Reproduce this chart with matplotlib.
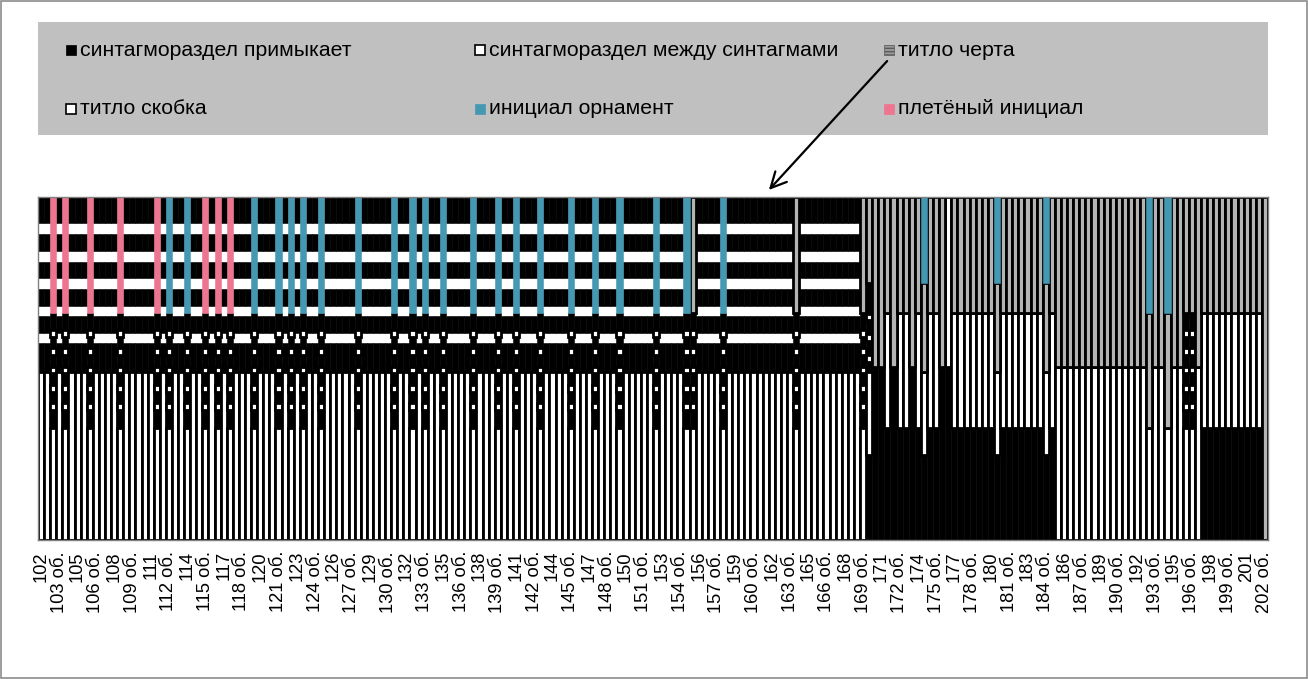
import matplotlib
matplotlib.use('Agg')
import matplotlib.pyplot as plt
from matplotlib.patches import Rectangle, FancyArrowPatch

plt.rcParams['font.family'] = ['Liberation Sans', 'DejaVu Sans']

# ---------------- data ----------------
pages = list(range(102, 203))
categories = []
for p in pages:
    categories += [str(p), f"{p} об."]

series_names = ['синтагмораздел примыкает', 'синтагмораздел между синтагмами',
                'титло черта', 'титло скобка', 'инициал орнамент', 'плетёный инициал']
series_codes = ['B', 'W', 'G', 'S', 'T', 'P']

# segment profiles (bottom -> top), share of the column in %
NORMAL_TYPES = ['S', 'B', 'W', 'B', 'W', 'B', 'W', 'B', 'W', 'B', 'W', 'B']
NORMAL_VALUES = [49.0, 8.4, 2.9, 5.0, 2.9, 5.0, 3.2, 4.6, 3.3, 4.9, 3.2, 7.6]

LADDER_TYPES = ['S', 'B', 'S', 'B', 'S', 'B', 'S', 'B', 'S', 'B', 'S', 'B']
LADDER_VALUES = [32.7, 5.2, 2.0, 3.2, 2.1, 3.5, 1.7, 3.5, 2.1, 3.2, 2.0, 5.0, 33.8]

RA_TYPES = ['B', 'S', 'G']
RA_VALUES = [32.7, 33.5, 33.8]
RB_TYPES = ['B', 'G']
RB_VALUES = [50.4, 49.6]
RC_TYPES = ['B', 'S', 'G', 'T']
RC_VALUES = [24.8, 24.2, 25.9, 25.1]
RD_TYPES = ['S', 'G']
RD_VALUES = [50.4, 49.6]
RE_TYPES = ['S', 'G', 'T']
RE_VALUES = [32.7, 33.5, 33.8]
RH_TYPES = ['G']
RH_VALUES = [100.0]
RI_TYPES = ['B', 'S']
RI_VALUES = [50.4, 49.6]
R136_TYPES = ['B', 'S', 'B', 'S', 'B', 'S', 'B', 'S', 'B', 'G']
R136_VALUES = [24.8, 24.2, 3.0, 2.0, 4.0, 2.0, 4.0, 2.0, 8.9, 25.1]

# which columns carry which profile
pink_initial_cols = [2, 4, 8, 13, 19, 27, 29, 31]
teal_initial_cols = [21, 24, 35, 39, 41, 43, 46, 52, 58, 61, 63, 66, 71, 75, 78, 82,
                     87, 91, 95, 101, 106, 112]
gray_ladder_cols = [107, 124, 135, 188, 189]
ra_cols = [139, 141, 142, 144, 146, 147, 150, 151, 152, 153, 154, 155, 156, 158, 159,
           160, 161, 162, 163, 164, 166, 191, 192, 193, 194, 195, 196, 197, 198, 199, 200]
rb_cols = [137, 138, 140, 143, 148]
rc_cols = [145, 157, 165]
rd_cols = [167, 168, 169, 170, 171, 172, 173, 174, 175, 176, 177, 178, 179, 180, 181,
           183, 184, 186, 187, 190]
re_cols = [182, 185]
rh_cols = [201]
ri_cols = [149]
r136_cols = [136]

# ---------------- build per-column profiles ----------------
profiles = []
for i in range(len(categories)):
    if i in pink_initial_cols:
        prof = (LADDER_TYPES + ['P'], LADDER_VALUES)
    elif i in teal_initial_cols:
        prof = (LADDER_TYPES + ['T'], LADDER_VALUES)
    elif i in gray_ladder_cols:
        prof = (LADDER_TYPES + ['G'], LADDER_VALUES)
    elif i in ra_cols:
        prof = (RA_TYPES, RA_VALUES)
    elif i in rb_cols:
        prof = (RB_TYPES, RB_VALUES)
    elif i in rc_cols:
        prof = (RC_TYPES, RC_VALUES)
    elif i in rd_cols:
        prof = (RD_TYPES, RD_VALUES)
    elif i in re_cols:
        prof = (RE_TYPES, RE_VALUES)
    elif i in rh_cols:
        prof = (RH_TYPES, RH_VALUES)
    elif i in ri_cols:
        prof = (RI_TYPES, RI_VALUES)
    elif i in r136_cols:
        prof = (R136_TYPES, R136_VALUES)
    else:
        prof = (NORMAL_TYPES, NORMAL_VALUES)
    profiles.append(prof)

style = {
    'B': dict(color='#000000', edgecolor='#000000', linewidth=0.4),
    'W': dict(color='#FFFFFF', edgecolor='#FFFFFF', linewidth=0.3),
    'G': dict(color='#B4B4B4', edgecolor='#000000', linewidth=2.0),
    'S': dict(color='#FFFFFF', edgecolor='#000000', linewidth=2.0),
    'T': dict(color='#4598B2', edgecolor='#4598B2', linewidth=0.4),
    'P': dict(color='#EE7590', edgecolor='#EE7590', linewidth=0.4),
}
draw_order = ['W', 'B', 'S', 'G', 'T', 'P']

segs = {c: ([], [], []) for c in series_codes}
for i, (types, vals) in enumerate(profiles):
    bottom = 0.0
    for t, v in zip(types, vals):
        segs[t][0].append(i)
        segs[t][1].append(v)
        segs[t][2].append(bottom)
        bottom += v

# ---------------- figure ----------------
W, H = 1308, 679
fig = plt.figure(figsize=(W / 100, H / 100), dpi=100)
fig.patch.set_facecolor('white')

L, R, T, Bt = 38, 1268, 197, 540
ax = fig.add_axes([L / W, 1 - Bt / H, (R - L) / W, (Bt - T) / H])

for c in draw_order:
    xs, hs, bs = segs[c]
    if xs:
        ax.bar(xs, hs, bottom=bs, width=1.0, align='center', zorder=2, **style[c])

ax.set_xlim(-0.5, len(categories) - 0.5)
ax.set_ylim(0, 100)
ax.set_yticks([])
tick_pos = list(range(0, len(categories), 3))
ax.set_xticks(tick_pos)
ax.set_xticklabels([categories[k] for k in tick_pos], rotation=90, fontsize=13.2,
                   va='top', ha='center')
ax.tick_params(axis='x', length=0, pad=8)
for s in ax.spines.values():
    s.set_color('#808080')
    s.set_linewidth(1.0)
    s.set_zorder(5)

# ---------------- legend (manual, Excel-like) ----------------
fig.patches.append(Rectangle((L / W, 1 - 135 / H), (R - L) / W, (135 - 22) / H,
                             transform=fig.transFigure, facecolor='#C0C0C0',
                             edgecolor='none', zorder=0))
leg_pos = [(66, 50), (475, 50), (884, 50), (66, 109), (475, 109), (884, 109)]
leg_order = ['B', 'W', 'G', 'S', 'T', 'P']
plt.rcParams['hatch.color'] = '#3C3C3C'
plt.rcParams['hatch.linewidth'] = 1.0
for (px, py), code, name in zip(leg_pos, leg_order, series_names):
    sz = 10
    fc = style[code]['color']
    ec = '#000000' if code in ('B', 'W', 'S') else fc
    lw = 1.2 if code in ('W', 'S') else 0.5
    hatch = None
    if code == 'G':
        fc = '#9A9A9A'
        ec = '#5A5A5A'
        hatch = '-----'
    fig.patches.append(Rectangle((px / W, 1 - (py + sz / 2) / H), sz / W, sz / H,
                                 transform=fig.transFigure, facecolor=fc,
                                 edgecolor=ec, linewidth=lw, hatch=hatch, zorder=3))
    fig.text((px + sz + 4) / W, 1 - py / H, name, fontsize=15.3,
             va='center', ha='left', color='#000000')

# arrow from the legend entry to the chart
arrow = FancyArrowPatch((889 / W, 1 - 59 / H), (767 / W, 1 - 192 / H),
                        transform=fig.transFigure, arrowstyle='->', color='black',
                        lw=1.6, mutation_scale=28, zorder=20)
fig.patches.append(arrow)

# outer border
fig.patches.append(Rectangle((0.0008, 0.0015), 0.9984, 0.997, transform=fig.transFigure,
                             fill=False, edgecolor='#8C8C8C', linewidth=1.2, zorder=10))

fig.savefig('out.png', dpi=100)
